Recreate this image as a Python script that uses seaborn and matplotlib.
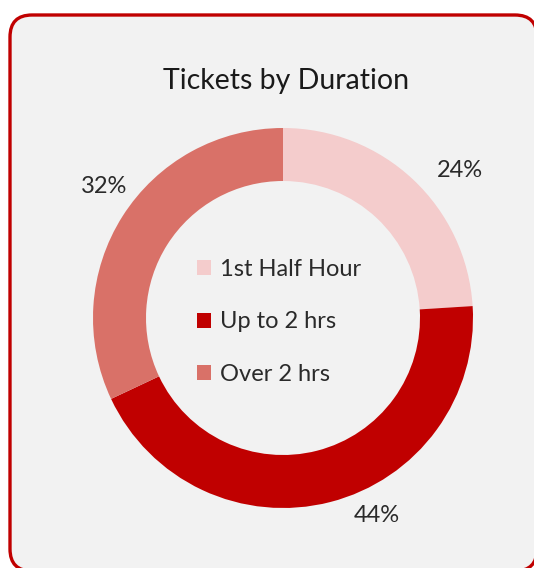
import matplotlib
matplotlib.use("Agg")
import matplotlib.pyplot as plt
import seaborn as sns
import numpy as np
from matplotlib.patches import FancyBboxPatch

categories = ["1st Half Hour", "Up to 2 hrs", "Over 2 hrs"]
values = [24, 44, 32]
pct_labels = ["24%", "44%", "32%"]
title = "Tickets by Duration"

colors = ["#F4CCCC", "#C00000", "#D97168"]
label_angle_shift = [-7, 11, -4]   # degrees, style tweak for label placement
label_dist = [1.21, 1.15, 1.17]

sns.set_theme(style="white")
plt.rcParams['font.family'] = ['Lato', 'DejaVu Sans']

W, H = 534, 568
fig = plt.figure(figsize=(W / 100, H / 100), dpi=100)
fig.patch.set_facecolor("white")

# rounded frame (inches)
box = FancyBboxPatch((0.10, -0.03), 5.27, 5.56,
                     boxstyle="round,pad=0,rounding_size=0.22",
                     transform=fig.dpi_scale_trans, facecolor="#F2F2F2",
                     edgecolor="#C00000", linewidth=2.4, zorder=-10)
fig.patches.append(box)

cx, cy, R = 283, 318, 190
half = 1.4
side = 2 * half * R
ax = fig.add_axes([(cx - half * R) / W, (H - cy - half * R) / H, side / W, side / H])
ax.patch.set_alpha(0)

wedges, _ = ax.pie(values, colors=colors, startangle=90, counterclock=False,
                   radius=1.0, wedgeprops=dict(width=53 / 190, linewidth=0))
ax.set_xlim(-half, half)
ax.set_ylim(-half, half)
ax.set_aspect("equal")
ax.axis("off")

for w, lab, sh, d in zip(wedges, pct_labels, label_angle_shift, label_dist):
    ang = np.deg2rad((w.theta1 + w.theta2) / 2 + sh)
    ax.text(d * np.cos(ang), d * np.sin(ang), lab, ha="center", va="center",
            fontsize=17, fontweight="normal", color="#2a2a2a")

leg = ax.legend(wedges, categories, loc="center", frameon=False,
                prop=dict(size=17, weight="normal"), labelspacing=1.33,
                handlelength=0.6, handleheight=0.6, handletextpad=0.4,
                bbox_to_anchor=(-0.021, -0.021), bbox_transform=ax.transData)
for t in leg.get_texts():
    t.set_color("#2a2a2a")

fig.text(286 / W, 1 - 81 / H, title, ha="center", va="center",
         fontsize=20.5, fontweight="normal", color="#1a1a1a")

fig.savefig("out.png", dpi=100, facecolor="white")
